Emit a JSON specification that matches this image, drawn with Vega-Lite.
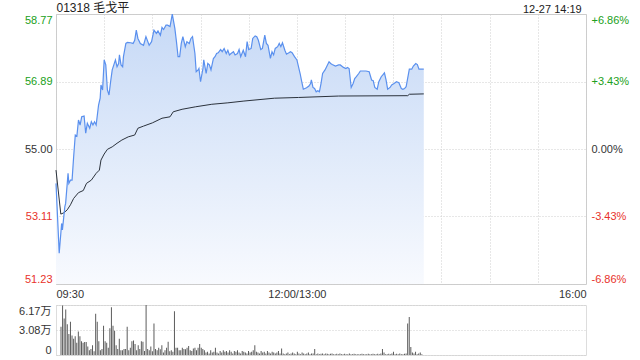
{
  "$schema": "https://vega.github.io/schema/vega-lite/v6.json",
  "background": "white",
  "padding": {"left": 0, "top": 0, "right": 0, "bottom": 0},
  "spacing": 4,
  "config": {
    "font": "Liberation Sans",
    "view": {"stroke": null},
    "axis": {"labelFont": "Liberation Sans, Noto Sans CJK SC", "labelFontSize": 11, "labelColor": "#333", "ticks": false, "domain": false, "title": null, "gridColor": "#cfcfcf", "gridDash": [1, 2]}
  },
  "datasets": {
    "price": [
      {"t":0,"p":54.04},{"t":2,"p":52.09},{"t":3.5,"p":52.92},{"t":4,"p":52.74},{"t":5.5,"p":53.39},{"t":6,"p":53.48},{"t":7.5,"p":54.32},{"t":8,"p":54.04},{"t":9,"p":54.13},{"t":10,"p":54.13},
      {"t":11,"p":54.79},{"t":12,"p":55.39},{"t":13,"p":55.36},{"t":14,"p":55.81},{"t":15,"p":55.67},{"t":16,"p":55.9},{"t":17.5,"p":55.92},{"t":18.5,"p":55.44},{"t":19.5,"p":55.72},{"t":21,"p":55.58},
      {"t":22,"p":55.76},{"t":23,"p":55.67},{"t":24,"p":55.76},{"t":25,"p":55.67},{"t":26.5,"p":56.23},{"t":27.5,"p":56.42},{"t":28,"p":56.79},{"t":29,"p":56.65},{"t":30,"p":57.49},{"t":31,"p":57.35},
      {"t":32,"p":56.65},{"t":33,"p":56.51},{"t":34,"p":56.88},{"t":35,"p":57.21},{"t":36,"p":57.35},{"t":37,"p":57.49},{"t":38,"p":57.3},{"t":39,"p":57.39},{"t":39.5,"p":57.63},{"t":40.5,"p":57.35},
      {"t":41.5,"p":57.3},{"t":42,"p":57.58},{"t":43.5,"p":57.95},{"t":44.5,"p":57.98},{"t":46.5,"p":57.97},{"t":48,"p":57.95},{"t":49,"p":58.04},{"t":50,"p":58.32},{"t":51,"p":58.09},{"t":52.5,"p":57.95},
      {"t":54.5,"p":57.9},{"t":56,"p":58.14},{"t":58,"p":57.9},{"t":59.5,"p":58.0},{"t":61,"p":58.32},{"t":62.5,"p":58.23},{"t":63.5,"p":58.3},{"t":65,"p":58.18},{"t":66,"p":58.4},{"t":67,"p":58.34},
      {"t":68.5,"p":58.46},{"t":69.5,"p":58.46},{"t":71,"p":58.42},{"t":72.4,"p":58.77},{"t":74,"p":58.37},{"t":75,"p":58.0},{"t":76,"p":57.58},{"t":77,"p":57.58},{"t":78,"p":57.95},{"t":79,"p":58.14},
      {"t":80.5,"p":57.86},{"t":81.5,"p":58.0},{"t":83,"p":57.95},{"t":84,"p":58.09},{"t":85,"p":58.14},{"t":86.5,"p":57.67},{"t":87.3,"p":57.16},{"t":88.5,"p":57.21},{"t":89,"p":57.25},{"t":90,"p":56.88},
      {"t":91.5,"p":57.25},{"t":92,"p":57.49},{"t":93.5,"p":57.11},{"t":94.5,"p":57.39},{"t":95.5,"p":57.35},{"t":96.5,"p":57.21},{"t":98,"p":57.53},{"t":99,"p":57.58},{"t":100,"p":57.67},{"t":101,"p":57.69},
      {"t":102.5,"p":57.78},{"t":103.5,"p":57.72},{"t":104.7,"p":57.81},{"t":106,"p":57.67},{"t":107,"p":57.76},{"t":108,"p":57.63},{"t":109,"p":57.67},{"t":110.5,"p":57.72},{"t":111.5,"p":57.63},{"t":113,"p":57.67},
      {"t":114,"p":57.78},{"t":115,"p":57.58},{"t":116.6,"p":57.76},{"t":118,"p":57.58},{"t":119,"p":58.0},{"t":120,"p":57.78},{"t":121.5,"p":57.81},{"t":122.5,"p":58.09},{"t":124,"p":58.16},{"t":125,"p":58.14},
      {"t":126,"p":58.04},{"t":127.5,"p":57.78},{"t":128.5,"p":57.81},{"t":130,"p":58.18},{"t":131,"p":57.95},{"t":132,"p":57.9},{"t":133.5,"p":57.53},{"t":134.5,"p":57.72},{"t":135.5,"p":57.63},{"t":136.5,"p":57.81},
      {"t":138,"p":57.86},{"t":139,"p":57.95},{"t":140,"p":57.86},{"t":141,"p":57.97},{"t":142.5,"p":57.76},{"t":143.5,"p":57.65},{"t":145,"p":57.69},{"t":146,"p":57.72},{"t":147,"p":57.69},{"t":148.5,"p":57.58},
      {"t":150,"p":57.49},{"t":152,"p":57.11},{"t":153,"p":56.88},{"t":154,"p":56.67},{"t":155,"p":56.69},{"t":156,"p":56.71},{"t":157.5,"p":56.76},{"t":158.5,"p":56.83},{"t":159,"p":56.93},{"t":160,"p":56.72},
      {"t":161,"p":56.69},{"t":162,"p":56.6},{"t":163,"p":56.63},{"t":164,"p":56.6},{"t":165,"p":56.83},{"t":166,"p":57.11},{"t":167.5,"p":57.21},{"t":168.5,"p":57.3},{"t":170,"p":57.44},{"t":171,"p":57.39},
      {"t":172,"p":57.36},{"t":174,"p":57.32},{"t":176,"p":57.35},{"t":177,"p":57.35},{"t":179,"p":57.28},{"t":180.5,"p":57.25},{"t":181.5,"p":57.28},{"t":182.5,"p":57.25},{"t":183.8,"p":56.72},{"t":185,"p":56.83},
      {"t":186,"p":56.97},{"t":187,"p":57.02},{"t":188.5,"p":57.11},{"t":189.5,"p":57.18},{"t":191,"p":57.18},{"t":193,"p":57.18},{"t":195,"p":57.16},{"t":196.5,"p":56.93},{"t":197.5,"p":56.91},{"t":198.5,"p":56.72},
      {"t":200,"p":56.67},{"t":201,"p":56.88},{"t":202.5,"p":57.02},{"t":203.5,"p":57.07},{"t":204.5,"p":57.13},{"t":205.5,"p":56.93},{"t":206.5,"p":56.67},{"t":208,"p":56.72},{"t":209,"p":56.79},{"t":210.5,"p":56.83},
      {"t":212,"p":56.88},{"t":213.5,"p":56.85},{"t":215,"p":56.69},{"t":216,"p":56.67},{"t":217,"p":56.69},{"t":218,"p":56.74},{"t":220,"p":57.23},{"t":221.5,"p":57.23},{"t":222.5,"p":57.32},{"t":224,"p":57.39},
      {"t":225,"p":57.36},{"t":226,"p":57.23},{"t":229,"p":57.23}
    ],
    "avg": [
      {"t":0,"a":54.41},{"t":3,"a":53.18},{"t":5,"a":53.22},{"t":7,"a":53.3},{"t":9,"a":53.44},{"t":11,"a":53.62},{"t":14,"a":53.78},{"t":17,"a":53.84},{"t":19,"a":54.04},{"t":22,"a":54.13},
      {"t":25,"a":54.32},{"t":27,"a":54.41},{"t":28,"a":54.69},{"t":30,"a":54.86},{"t":32,"a":54.99},{"t":35,"a":55.06},{"t":38,"a":55.16},{"t":41,"a":55.25},{"t":45,"a":55.34},{"t":49,"a":55.39},
      {"t":51,"a":55.58},{"t":54.5,"a":55.64},{"t":60,"a":55.73},{"t":66,"a":55.86},{"t":71,"a":55.9},{"t":73,"a":56.04},{"t":78.5,"a":56.11},{"t":87,"a":56.18},{"t":97,"a":56.25},{"t":107,"a":56.29},
      {"t":117,"a":56.34},{"t":136,"a":56.42},{"t":151,"a":56.44},{"t":176,"a":56.48},{"t":219,"a":56.49},{"t":220,"a":56.53},{"t":229,"a":56.54}
    ],
    "vol": [
      {"t":0,"v":3.5},{"t":1,"v":6.1},{"t":2,"v":4.5},{"t":3,"v":5.6},{"t":4,"v":3.8},{"t":5,"v":2.6},{"t":6,"v":4.1},{"t":7,"v":2.4},{"t":8,"v":2.0},{"t":9,"v":2.3},
      {"t":10,"v":1.5},{"t":11,"v":2.9},{"t":12,"v":2.3},{"t":13,"v":1.7},{"t":14,"v":1.5},{"t":15,"v":1.6},{"t":16,"v":1.6},{"t":17,"v":1.05},{"t":18,"v":0.6},{"t":19,"v":0.75},
      {"t":20,"v":1.2},{"t":21,"v":0.45},{"t":22,"v":5.1},{"t":23,"v":4.1},{"t":24,"v":1.7},{"t":25,"v":0.6},{"t":26,"v":0.75},{"t":27,"v":3.6},{"t":28,"v":1.7},{"t":29,"v":1.5},
      {"t":30,"v":0.9},{"t":31,"v":3.3},{"t":32,"v":5.9},{"t":33,"v":3.6},{"t":34,"v":3.0},{"t":35,"v":1.2},{"t":36,"v":0.75},{"t":37,"v":2.0},{"t":38,"v":0.6},{"t":39,"v":0.6},
      {"t":40,"v":0.75},{"t":41,"v":0.75},{"t":42,"v":3.5},{"t":43,"v":0.6},{"t":44,"v":0.9},{"t":45,"v":1.7},{"t":46,"v":1.8},{"t":47,"v":1.35},{"t":48,"v":0.6},{"t":49,"v":1.2},
      {"t":50,"v":0.75},{"t":51,"v":1.7},{"t":52,"v":1.65},{"t":53,"v":0.5},{"t":54,"v":6.17},{"t":55,"v":0.75},{"t":56,"v":0.6},{"t":57,"v":1.05},{"t":58,"v":0.45},{"t":59,"v":3.9},
      {"t":60,"v":0.75},{"t":61,"v":0.6},{"t":62,"v":0.9},{"t":63,"v":0.7},{"t":64,"v":1.2},{"t":65,"v":0.3},{"t":66,"v":0.6},{"t":67,"v":0.9},{"t":68,"v":1.65},{"t":69,"v":0.45},
      {"t":70,"v":0.6},{"t":71,"v":0.4},{"t":72,"v":5.4},{"t":73,"v":0.9},{"t":74,"v":0.9},{"t":75,"v":0.6},{"t":76,"v":0.6},{"t":77,"v":0.9},{"t":78,"v":0.75},{"t":79,"v":0.7},
      {"t":80,"v":0.9},{"t":81,"v":1.1},{"t":82,"v":0.6},{"t":83,"v":0.5},{"t":84,"v":0.8},{"t":85,"v":0.9},{"t":86,"v":0.6},{"t":87,"v":0.9},{"t":88,"v":1.35},{"t":89,"v":0.9},
      {"t":90,"v":0.75},{"t":91,"v":0.6},{"t":92,"v":0.3},{"t":93,"v":0.4},{"t":94,"v":0.2},{"t":95,"v":0.6},{"t":96,"v":0.3},{"t":97,"v":0.4},{"t":98,"v":0.9},{"t":99,"v":0.3},
      {"t":100,"v":0.2},{"t":101,"v":0.5},{"t":102,"v":0.3},{"t":103,"v":0.6},{"t":104,"v":0.4},{"t":105,"v":0.5},{"t":106,"v":0.3},{"t":107,"v":0.6},{"t":108,"v":0.4},{"t":109,"v":0.2},
      {"t":110,"v":0.5},{"t":111,"v":0.4},{"t":112,"v":0.6},{"t":113,"v":0.3},{"t":114,"v":0.2},{"t":115,"v":0.5},{"t":116,"v":0.4},{"t":117,"v":0.3},{"t":118,"v":0.2},{"t":119,"v":0.5},
      {"t":120,"v":0.3},{"t":121,"v":0.4},{"t":122,"v":0.6},{"t":123,"v":1.2},{"t":124,"v":0.4},{"t":125,"v":0.3},{"t":126,"v":0.2},{"t":127,"v":0.5},{"t":128,"v":0.3},{"t":129,"v":0.4},
      {"t":130,"v":0.2},{"t":131,"v":0.5},{"t":132,"v":0.3},{"t":133,"v":0.2},{"t":134,"v":0.4},{"t":135,"v":0.3},{"t":136,"v":0.2},{"t":137,"v":0.3},{"t":138,"v":0.5},{"t":139,"v":0.2},
      {"t":140,"v":0.8},{"t":141,"v":0.2},{"t":142,"v":0.1},{"t":143,"v":0.2},{"t":144,"v":0.3},{"t":145,"v":0.1},{"t":146,"v":0.2},{"t":147,"v":0.3},{"t":148,"v":0.2},{"t":149,"v":0.1},
      {"t":150,"v":0.4},{"t":151,"v":0.2},{"t":152,"v":0.1},{"t":153,"v":0.3},{"t":154,"v":0.2},{"t":155,"v":0.1},{"t":156,"v":0.2},{"t":157,"v":0.3},{"t":158,"v":0.1},{"t":159,"v":0.2},
      {"t":160,"v":0.2},{"t":161,"v":0.75},{"t":162,"v":0.1},{"t":163,"v":0.2},{"t":164,"v":0.1},{"t":165,"v":0.15},{"t":166,"v":0.2},{"t":167,"v":0.1},{"t":168,"v":0.2},{"t":169,"v":0.15},
      {"t":170,"v":0.1},{"t":171,"v":0.15},{"t":172,"v":0.2},{"t":173,"v":0.1},{"t":174,"v":0.1},{"t":175,"v":0.15},{"t":176,"v":0.1},{"t":177,"v":0.2},{"t":178,"v":0.1},{"t":179,"v":0.1},
      {"t":180,"v":0.15},{"t":181,"v":0.1},{"t":182,"v":0.1},{"t":183,"v":0.2},{"t":184,"v":0.1},{"t":185,"v":0.1},{"t":186,"v":0.15},{"t":187,"v":0.1},{"t":188,"v":0.1},{"t":189,"v":0.1},
      {"t":190,"v":0.1},{"t":191,"v":0.15},{"t":192,"v":0.1},{"t":193,"v":0.1},{"t":194,"v":0.1},{"t":195,"v":0.15},{"t":196,"v":0.1},{"t":197,"v":0.1},{"t":198,"v":0.15},{"t":199,"v":0.1},
      {"t":200,"v":0.1},{"t":201,"v":0.15},{"t":202,"v":0.1},{"t":203,"v":0.2},{"t":204,"v":0.75},{"t":205,"v":0.3},{"t":206,"v":0.1},{"t":207,"v":0.1},{"t":208,"v":0.15},{"t":209,"v":0.1},
      {"t":210,"v":0.2},{"t":211,"v":0.4},{"t":212,"v":0.1},{"t":213,"v":0.15},{"t":214,"v":0.1},{"t":215,"v":0.2},{"t":216,"v":0.1},{"t":217,"v":0.1},{"t":218,"v":0.15},{"t":219,"v":0.2},
      {"t":220,"v":3.9},{"t":221,"v":4.7},{"t":222,"v":1.0},{"t":223,"v":0.3},{"t":224,"v":0.2},{"t":225,"v":0.4},{"t":226,"v":0.1},{"t":227,"v":0.2},{"t":228,"v":0.3},{"t":229,"v":0.1}
    ]
  },
  "vconcat": [
    {
      "width": 530,
      "height": 270,
      "view": {"stroke": "#cccccc"},
      "resolve": {"axis": {"x": "independent", "y": "independent"}},
      "layer": [
        {
          "data": {"name": "price"},
          "mark": {"type": "area", "color": {"gradient": "linear", "x1": 0, "y1": 0, "x2": 0, "y2": 1, "stops": [{"offset": 0, "color": "#c6d9f6"}, {"offset": 1, "color": "#f8fafe"}]}},
          "encoding": {
            "x": {"field": "t", "type": "quantitative", "scale": {"domain": [0, 330], "nice": false, "zero": false},
              "axis": {"orient": "bottom", "values": [0, 30, 60, 90, 120, 150, 180, 210, 240, 270, 300, 330], "labelExpr": "datum.value == 0 ? '09:30' : datum.value == 150 ? '12:00/13:00' : datum.value == 330 ? '16:00' : ''", "labelFlush": true, "labelOverlap": false, "labelPadding": 4, "grid": true}},
            "y": {"field": "p", "type": "quantitative", "scale": {"domain": [51.227, 58.773], "nice": false, "zero": false},
              "axis": {"orient": "left", "values": [51.227, 53.1135, 55, 56.8865, 58.773], "format": ".2f", "labelFlush": true, "labelPadding": 4, "grid": true, "minExtent": 55, "maxExtent": 55,
                "labelColor": {"condition": [{"test": "datum.value > 55.001", "value": "#20a020"}, {"test": "datum.value < 54.999", "value": "#e8322b"}], "value": "#333333"}}},
            "y2": {"datum": 51.227}
          }
        },
        {
          "mark": {"type": "rule", "color": "#aaaaaa", "strokeDash": [4, 2, 1, 2]},
          "encoding": {"y": {"datum": 55, "axis": null}}
        },
        {
          "data": {"name": "avg"},
          "mark": {"type": "line", "color": "#2b323c", "strokeWidth": 1},
          "encoding": {
            "x": {"field": "t", "type": "quantitative", "axis": null},
            "y": {"field": "a", "type": "quantitative", "axis": null}
          }
        },
        {
          "data": {"name": "price"},
          "mark": {"type": "line", "color": "#5a90ee", "strokeWidth": 1.2},
          "encoding": {
            "x": {"field": "t", "type": "quantitative",
              "axis": {"orient": "top", "values": [0, 327], "labelExpr": "datum.value == 0 ? '01318 毛戈平' : '12-27 14:19'", "labelAlign": {"condition": {"test": "datum.value == 0", "value": "left"}, "value": "right"}, "labelFontSize": {"condition": {"test": "datum.value == 0", "value": 12}, "value": 11}, "labelColor": "#222222", "labelPadding": 0, "grid": false, "labelOverlap": false}},
            "y": {"field": "p", "type": "quantitative",
              "axis": {"orient": "right", "values": [51.227, 53.1135, 55, 56.8865, 58.773], "labelExpr": "datum.value > 55.001 ? '+' + format((datum.value / 55 - 1) * 100, '.2f') + '%' : datum.value < 54.999 ? '-' + format((1 - datum.value / 55) * 100, '.2f') + '%' : '0.00%'", "labelFlush": true, "labelPadding": 5, "grid": false,
                "labelColor": {"condition": [{"test": "datum.value > 55.001", "value": "#20a020"}, {"test": "datum.value < 54.999", "value": "#e8322b"}], "value": "#333333"}}}
          }
        },
        {
          "mark": {"type": "text", "text": "sina.com", "align": "right", "baseline": "bottom", "color": "#d6d6d6", "fontSize": 11, "dx": -4, "dy": -1},
          "encoding": {"x": {"datum": 330, "axis": null}, "y": {"datum": 51.227, "axis": null}}
        }
      ]
    },
    {
      "width": 530,
      "height": 50,
      "view": {"stroke": "#dddddd"},
      "data": {"name": "vol"},
      "mark": {"type": "bar", "color": "#5c5c5c", "size": 1},
      "encoding": {
        "x": {"field": "t", "type": "quantitative", "scale": {"domain": [0, 330], "nice": false, "zero": false}, "axis": null},
        "y": {"field": "v", "type": "quantitative", "scale": {"domain": [0, 6.17], "nice": false},
          "axis": {"values": [0, 3.08, 6.17], "labelExpr": "datum.value == 0 ? '0' : format(datum.value, '.2f') + '万'", "labelFlush": true, "labelPadding": 5, "grid": true, "minExtent": 55, "maxExtent": 55}}
      }
    }
  ]
}
